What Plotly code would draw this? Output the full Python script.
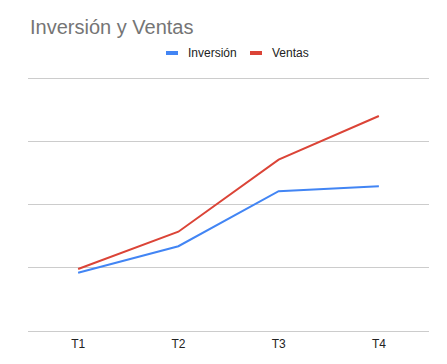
import plotly.graph_objects as go

categories = ["T1", "T2", "T3", "T4"]
inversion = [0.92, 1.34, 2.21, 2.29]
ventas = [0.98, 1.57, 2.71, 3.40]
series_names = ["Inversión", "Ventas"]
colors = ["#4285F4", "#DB4437"]

W, H = 447, 364
L, R, T, B = 28, 18, 77, 33
pw, ph = W - L - R, H - T - B

def px_x(x):
    return (x - L) / pw

def px_y(y):
    return (H - B - y) / ph

fig = go.Figure()
for name, vals, c in zip(series_names, [inversion, ventas], colors):
    fig.add_trace(go.Scatter(x=categories, y=vals, mode="lines", name=name,
                             line=dict(color=c, width=2), showlegend=False))

# manual legend
legend_items = [(166, 186, series_names[0], colors[0]), (250, 270, series_names[1], colors[1])]
for sx, tx, name, c in legend_items:
    fig.add_shape(type="rect", xref="paper", yref="paper",
                  x0=px_x(sx), x1=px_x(sx + 12), y0=px_y(55), y1=px_y(51),
                  fillcolor=c, line=dict(width=0))
    fig.add_annotation(xref="paper", yref="paper", x=px_x(tx), y=px_y(53),
                       text=name, showarrow=False, xanchor="left", yanchor="middle",
                       font=dict(size=12, color="#222222", family="Liberation Sans, Arial"))

fig.update_layout(
    width=W, height=H,
    margin=dict(l=L, r=R, t=T, b=B),
    paper_bgcolor="white", plot_bgcolor="white",
    title=dict(text="Inversión y Ventas", x=30 / W, xanchor="left", xref="container",
               y=1 - 27 / H, yanchor="middle", yref="container",
               font=dict(size=20, color="#757575", family="Liberation Sans, Arial")),
    font=dict(family="Liberation Sans, Arial", color="#222222", size=12),
    xaxis=dict(range=[-0.5, 3.5], showgrid=False, showline=False, zeroline=False,
               ticks="outside", ticklen=2, tickcolor="rgba(0,0,0,0)",
               tickfont=dict(size=12, color="#222222")),
    yaxis=dict(range=[0, 4.016], dtick=1, showgrid=True, gridcolor="#cccccc", gridwidth=1,
               showticklabels=False, zeroline=True, zerolinecolor="#cccccc", zerolinewidth=1,
               ticks="", showline=False),
)

fig.write_html("out.html", config={"displayModeBar": False},
               post_script="document.body.style.margin='0';document.body.style.padding='0';")
